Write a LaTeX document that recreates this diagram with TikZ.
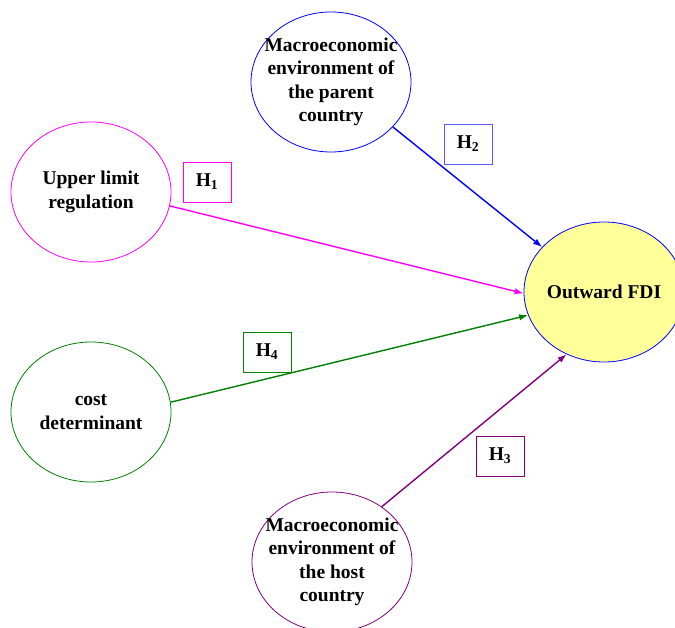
\documentclass[tikz,border=0pt]{standalone}
\usepackage{fontspec}
\setmainfont{Liberation Serif}
\usepackage{tikz}
\usetikzlibrary{shapes.geometric, arrows.meta}
\definecolor{hpink}{RGB}{255,0,255}
\definecolor{hblue}{RGB}{0,0,255}
\definecolor{hboxblue}{RGB}{90,90,255}
\definecolor{hgreen}{RGB}{0,128,0}
\definecolor{hpurple}{RGB}{128,0,128}
\definecolor{fdiyellow}{RGB}{255,255,153}

\begin{document}
\begin{tikzpicture}[x=1pt, y=-1pt,
    factor/.style={draw, ellipse, line width=0.8pt, minimum width=160pt, minimum height=140pt, inner sep=0pt},
    txt/.style={font=\fontsize{19.5}{23.5}\selectfont\bfseries, align=center},
    hbox/.style={draw, line width=0.8pt, minimum width=48pt, minimum height=40pt, inner sep=0pt, font=\fontsize{19.5}{23.5}\selectfont\bfseries},
    link/.style={-{Latex[length=9pt, width=6.5pt]}, line width=1.4pt}]
            \useasboundingbox (0,0) rectangle (675,628);
            % factors
            \node[factor, draw=hblue] (parent) at (331,82) {};
            \node[factor, draw=hpink] (upper) at (91,192) {};
            \node[factor, draw=hgreen] (cost) at (91,412) {};
            \node[factor, draw=hpurple] (host) at (332,562) {};
            \node[factor, draw=hblue, fill=fdiyellow] (fdi) at (604,292) {};
            \node[txt] (parenttxt) at (parent) {Macroeconomic\\environment of\\the parent\\country};
            \node[txt] (uppertxt) at (upper) {Upper limit\\regulation};
            \node[txt] (costtxt) at (cost) {cost\\determinant};
            \node[txt] (hosttxt) at (host) {Macroeconomic\\environment of\\the host\\country};
            \node[txt] (fditxt) at (fdi) {Outward FDI};
            % hypotheses
            \node[hbox, draw=hpink] (h1) at (207,182) {H\textsubscript{1}};
            \node[hbox, draw=hboxblue] (h2) at (468,144) {H\textsubscript{2}};
            \node[hbox, draw=hpurple] (h3) at (500,456) {H\textsubscript{3}};
            \node[hbox, draw=hgreen] (h4) at (267,352) {H\textsubscript{4}};
            % links
            \draw[link, hpink] (upper.-10) -- (fdi.181);
            \draw[link, hblue] (parent.-36) -- (fdi.144);
            \draw[link, hgreen] (cost.7) -- (fdi.197);
            \draw[link, hpurple] (host.48) -- (fdi.239);
        \end{tikzpicture}
\end{document}
